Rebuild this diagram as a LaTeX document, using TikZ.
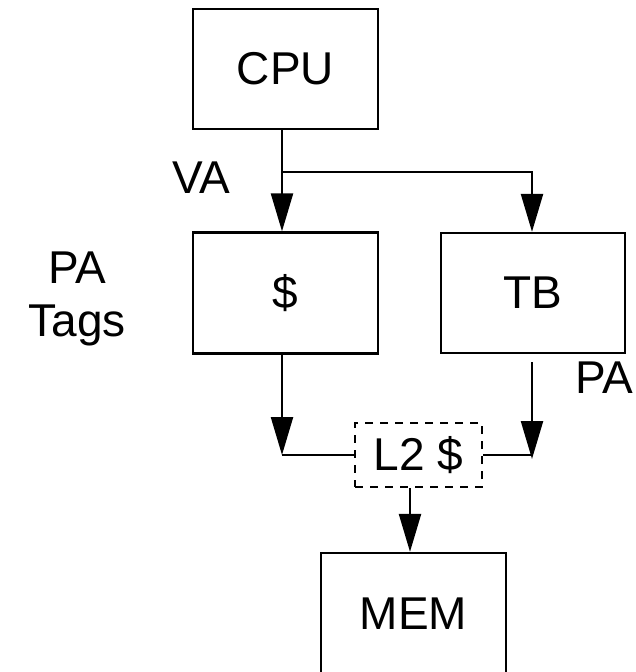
\documentclass[tikz,border=0pt]{standalone}
\usepackage{fontspec}
\setmainfont{Liberation Sans}
\usetikzlibrary{arrows.meta}

\begin{document}
\begin{tikzpicture}[x=1pt, y=-1pt,
  lbl/.style={inner sep=0pt, font=\fontsize{46}{53}\selectfont},
  box/.style={lbl, draw, line width=2.3pt, minimum width=185pt, minimum height=120pt},
  dashbox/.style={lbl, draw, line width=2pt, dash pattern=on 8pt off 7pt, minimum width=127pt, minimum height=64pt},
  wire/.style={line width=2.3pt},
  arr/.style={line width=2.3pt, -{Triangle[length=38pt,width=22pt]}}]
  \useasboundingbox (0,0) rectangle (635,672);
  % boxes
  \node[box] (cpu) at (285.5,69) {CPU};
  \node[box, minimum height=121pt] (cache) at (285.5,293) {\$};
  \node[box, minimum width=184pt] (tb) at (533,293) {TB};
  \node[dashbox] (l2) at (418.5,455) {L2 \$};
  \node[box, minimum height=122pt] (mem) at (413.5,614) {MEM};
  % labels
  \node[lbl] (va) at (201,178) {VA};
  \node[lbl, align=center] (tags) at (77,299) {PA\\Tags};
  \node[lbl] (pa) at (604,378) {PA};
  % junctions
  \coordinate (split) at (282,172);
  \coordinate (lj) at (282,455);
  \coordinate (rs) at (532,362);
  \coordinate (rj) at (532,459);
  \coordinate (dn) at (410,0);
  % connectors
  \draw[arr] (cpu.south -| split) -- (split |- cache.north);
  \draw[arr] (split) -| (tb.north -| rs);
  \draw[arr] (cache.south -| lj) -- (lj);
  \draw[wire] (lj) -- (l2.west);
  \draw[arr] (rs) -- (rj);
  \draw[wire] (l2.east) -- (l2.east -| rj);
  \draw[arr] (l2.south -| dn) -- (mem.north -| dn);
\end{tikzpicture}
\end{document}
